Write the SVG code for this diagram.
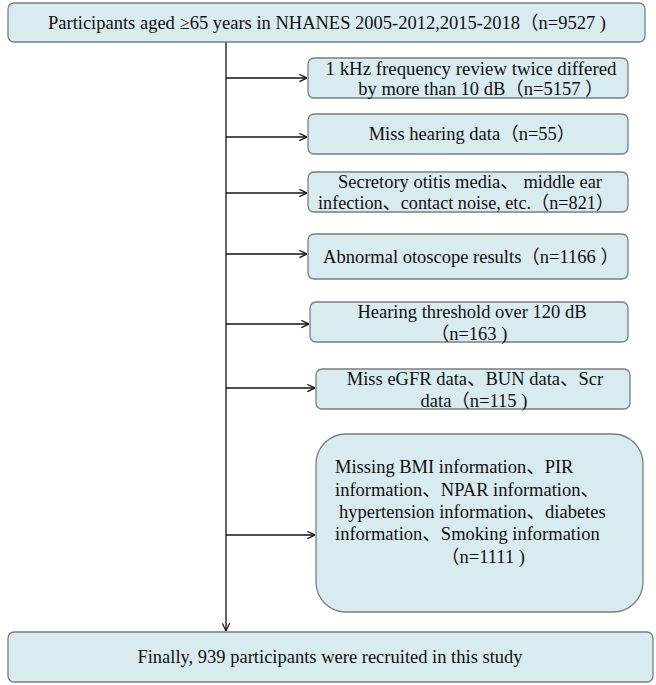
<svg xmlns="http://www.w3.org/2000/svg" width="656" height="685" viewBox="0 0 656 685">
<defs>
<style>
.box{fill:#d8ebee;stroke:#7a7f80;stroke-width:1.3}
.t{font-family:'Liberation Serif','Times New Roman','DejaVu Serif','Noto Sans CJK SC',serif;font-size:18.5px;fill:#111}
.c{text-anchor:middle}
.ln{stroke:#111;stroke-width:1.3;fill:none}
</style>
<marker id="ah" viewBox="0 0 10 10" refX="9.5" refY="5" markerWidth="9" markerHeight="9" markerUnits="userSpaceOnUse" orient="auto">
<path d="M1,1 L9.5,5 L1,9" fill="none" stroke="#111" stroke-width="1.3"/>
</marker>
</defs>
<rect width="656" height="685" fill="#fff"/>
<g id="connectors">
<line class="ln" x1="226" y1="42" x2="226" y2="631" marker-end="url(#ah)"/>
<line class="ln" x1="226" y1="78" x2="307" y2="78" marker-end="url(#ah)"/>
<line class="ln" x1="226" y1="137" x2="307" y2="137" marker-end="url(#ah)"/>
<line class="ln" x1="226" y1="193" x2="307" y2="193" marker-end="url(#ah)"/>
<line class="ln" x1="226" y1="254" x2="307" y2="254" marker-end="url(#ah)"/>
<line class="ln" x1="226" y1="324" x2="309" y2="324" marker-end="url(#ah)"/>
<line class="ln" x1="226" y1="388" x2="315" y2="388" marker-end="url(#ah)"/>
<line class="ln" x1="226" y1="535" x2="315" y2="535" marker-end="url(#ah)"/>
</g>
<g id="n0">
<rect class="box" x="8" y="3" width="637" height="39" rx="6"/>
<text class="t c" x="327" y="29">Participants aged ≥65 years in NHANES 2005-2012,2015-2018（n=9527 )</text>
</g>
<g id="n1">
<rect class="box" x="308" y="58" width="320" height="40" rx="6"/>
<text class="t c" x="471" y="75" textLength="291" lengthAdjust="spacingAndGlyphs">1 kHz frequency review twice  differed</text>
<text class="t c" x="481" y="95">by more than 10 dB（n=5157 ）</text>
</g>
<g id="n2">
<rect class="box" x="308" y="114" width="320" height="40" rx="6"/>
<text class="t c" x="472" y="140">Miss hearing data（n=55）</text>
</g>
<g id="n3">
<rect class="box" x="308" y="172" width="320" height="40" rx="6"/>
<text class="t c" x="470" y="188">Secretory otitis media、 middle ear</text>
<text class="t c" x="466" y="209" textLength="296" lengthAdjust="spacingAndGlyphs">infection、contact noise, etc.（n=821）</text>
</g>
<g id="n4">
<rect class="box" x="308" y="234" width="320" height="45" rx="6"/>
<text class="t c" x="471" y="263">Abnormal otoscope results（n=1166 ）</text>
</g>
<g id="n5">
<rect class="box" x="310" y="302" width="318" height="40" rx="6"/>
<text class="t c" x="472" y="318">Hearing threshold over 120 dB</text>
<text class="t c" x="469" y="340">（n=163 )</text>
</g>
<g id="n6">
<rect class="box" x="316" y="369" width="314" height="40" rx="6"/>
<text class="t c" x="475" y="385">Miss eGFR data、BUN data、Scr</text>
<text class="t c" x="474" y="407">data（n=115 )</text>
</g>
<g id="n7">
<rect class="box" x="316" y="434" width="327" height="178" rx="30"/>
<text class="t" x="335" y="473">Missing BMI information、PIR</text>
<text class="t" x="335" y="496">information、NPAR information、</text>
<text class="t" x="339" y="518">hypertension information、diabetes</text>
<text class="t" x="335" y="540">information、Smoking information</text>
<text class="t c" x="483" y="563">（n=1111 )</text>
</g>
<g id="n8">
<rect class="box" x="8" y="632" width="645" height="50" rx="6"/>
<text class="t c" x="330" y="663">Finally, 939 participants were recruited in this study</text>
</g>
</svg>
